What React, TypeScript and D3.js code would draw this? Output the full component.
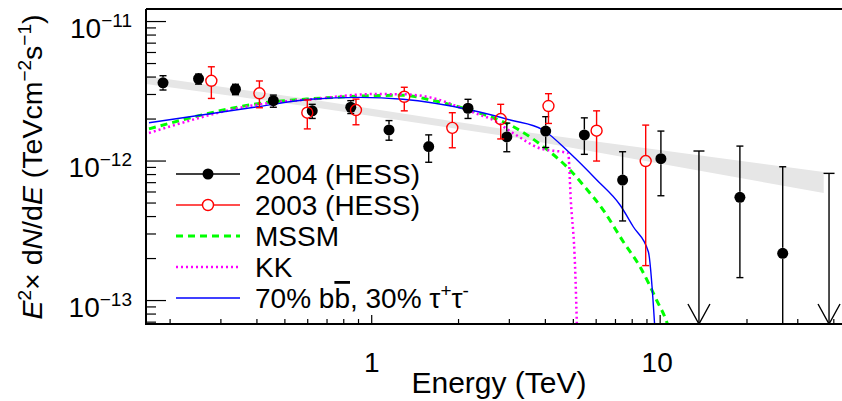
import React from 'react';
import * as d3 from 'd3';

const W = 842;
const H = 401;
const PL = 146, PR = 842, PT = 9, PB = 324;

const xDomain = [0.165, 42.7];
const yDomain = [6.79e-14, 1.23e-11];

const xMajor = [1, 10];
const xMajorLabels = ['1', '10'];
const yMajor = [1e-13, 1e-12, 1e-11];
const yMajorExp = ['\u221213', '\u221212', '\u221211'];

// 2004 (HESS)
const e04 = [0.189, 0.251, 0.337, 0.456, 0.622, 0.846, 1.148, 1.576, 2.157, 2.94, 4.01, 5.46, 7.41, 10.06, 18.9, 26.6];
const f04 = [3.64e-12, 3.89e-12, 3.27e-12, 2.71e-12, 2.29e-12, 2.43e-12, 1.67e-12, 1.27e-12, 2.39e-12, 1.49e-12, 1.64e-12, 1.54e-12, 7.31e-13, 1.039e-12, 5.49e-13, 2.18e-13];
const f04Hi = [4.09e-12, 4.2e-12, 3.55e-12, 2.97e-12, 2.55e-12, 2.71e-12, 1.95e-12, 1.54e-12, 2.77e-12, 1.87e-12, 2.08e-12, 2.04e-12, 1.166e-12, 1.64e-12, 1.28e-12, 9.1e-13];
const f04Lo = [3.23e-12, 3.56e-12, 2.99e-12, 2.43e-12, 2.02e-12, 2.19e-12, 1.41e-12, 9.8e-13, 2.02e-12, 1.166e-12, 1.25e-12, 1.117e-12, 3.72e-13, 5.64e-13, 1.46e-13, 4.0e-14];
// 2004 upper limits
const ulE = [13.63, 38.5];
const ulF = [1.18e-12, 8.16e-13];

// 2003 (HESS)
const e03 = [0.278, 0.408, 0.598, 0.882, 1.297, 1.903, 2.8, 4.1, 6.02, 8.91];
const f03 = [3.76e-12, 3.06e-12, 2.22e-12, 2.32e-12, 2.89e-12, 1.73e-12, 2.0e-12, 2.48e-12, 1.65e-12, 1.0e-12];
const f03Hi = [4.74e-12, 3.75e-12, 2.74e-12, 2.78e-12, 3.38e-12, 2.22e-12, 2.55e-12, 3.04e-12, 2.29e-12, 1.81e-12];
const f03Lo = [2.81e-12, 2.41e-12, 1.7e-12, 1.82e-12, 2.29e-12, 1.245e-12, 1.44e-12, 1.86e-12, 1.0e-12, 1.78e-13];

// power-law fit band
const bandE = [0.165, 0.611, 3.02, 36.9];
const bandHi = [4.07e-12, 2.77e-12, 1.67e-12, 8.34e-13];
const bandLo = [3.56e-12, 2.45e-12, 1.494e-12, 5.9e-13];

// MSSM
const mssmE = [0.169, 0.455, 0.595, 1.01, 1.294, 1.592, 2.14, 2.57, 3.1, 3.93, 4.87, 5.41, 6.35, 7.45, 8.51, 9.72, 10.53, 10.81];
const mssmF = [1.7e-12, 2.66e-12, 2.78e-12, 2.94e-12, 2.96e-12, 2.75e-12, 2.35e-12, 2.08e-12, 1.76e-12, 1.27e-12, 8.62e-13, 6.73e-13, 4.45e-13, 2.64e-13, 1.75e-13, 1.008e-13, 7.05e-14, 5.94e-14];
// KK
const kkE = [0.169, 0.455, 0.595, 1.01, 1.294, 1.592, 2.14, 2.374, 2.57, 3.1, 3.83, 4.8, 4.9, 5.07, 5.15];
const kkF = [1.59e-12, 2.63e-12, 2.75e-12, 3.02e-12, 3.01e-12, 2.86e-12, 2.32e-12, 2.14e-12, 2.02e-12, 1.58e-12, 1.233e-12, 1.136e-12, 5.25e-13, 1.75e-13, 6.14e-14];
// 70% bb, 30% tau tau
const bbE = [0.169, 0.403, 0.611, 0.911, 1.284, 2.14, 3.02, 3.93, 4.87, 6.03, 7.26, 8.07, 9.1, 9.64];
const bbF = [1.88e-12, 2.45e-12, 2.77e-12, 2.86e-12, 2.77e-12, 2.35e-12, 1.97e-12, 1.67e-12, 1.136e-12, 7.31e-13, 4.84e-13, 3.38e-13, 2.24e-13, 5.21e-14];

const FONT = "'Liberation Sans', Arial, Helvetica, sans-serif";

export default function App() {
  const x = d3.scaleLog().domain(xDomain).range([PL, PR]);
  const y = d3.scaleLog().domain(yDomain).range([PB, PT]);

  const xMinor: number[] = [];
  [0.1, 1, 10].forEach((d) => {
    for (let k = 2; k <= 9; k++) {
      const v = k * d;
      if (v > xDomain[0] && v < xDomain[1]) xMinor.push(v);
    }
  });
  const yMinor: number[] = [];
  [1e-14, 1e-13, 1e-12, 1e-11].forEach((d) => {
    for (let k = 2; k <= 9; k++) {
      const v = k * d;
      if (v > yDomain[0] && v < yDomain[1]) yMinor.push(v);
    }
  });

  const line = d3
    .line<[number, number]>()
    .x((d) => x(d[0]))
    .y((d) => y(d[1]))
    .curve(d3.curveMonotoneX);

  const area = d3
    .area<number>()
    .x((_, i) => x(bandE[i]))
    .y0((_, i) => y(bandLo[i]))
    .y1((_, i) => y(bandHi[i]));

  const zip = (a: number[], b: number[]) => a.map((v, i) => [v, b[i]] as [number, number]);

  const r = 5.5;
  const cap = 3.5;

  const errBar = (cx: number, cy: number, hi: number, lo: number, color: string, key: string) => (
    <g key={key} stroke={color} strokeWidth={1.4}>
      <line x1={cx} x2={cx} y1={cy - r} y2={hi} />
      <line x1={cx} x2={cx} y1={cy + r} y2={lo} />
      <line x1={cx - cap} x2={cx + cap} y1={hi} y2={hi} />
      <line x1={cx - cap} x2={cx + cap} y1={lo} y2={lo} />
    </g>
  );

  const legendRows = [
    { label: '2004 (HESS)', kind: 'black' },
    { label: '2003 (HESS)', kind: 'red' },
    { label: 'MSSM', kind: 'mssm' },
    { label: 'KK', kind: 'kk' },
    { label: 'bb', kind: 'bb' },
  ];

  return (
    <svg
      width={W}
      height={H}
      style={{ position: 'absolute', left: 0, top: 0, background: '#fff' }}
      fontFamily={FONT}
    >
      <defs>
        <clipPath id="plotclip">
          <rect x={PL} y={PT} width={PR - PL + 10} height={PB - PT} />
        </clipPath>
      </defs>
      <rect x={0} y={0} width={W} height={H} fill="#fff" />

      <g clipPath="url(#plotclip)">
        <path d={area(bandE) || ''} fill="#e6e6e6" stroke="none" />
        <path d={line(zip(mssmE, mssmF)) || ''} fill="none" stroke="#00ff00" strokeWidth={3} strokeDasharray="7 5" />
        <path d={line(zip(kkE, kkF)) || ''} fill="none" stroke="#ff00ff" strokeWidth={2.5} strokeDasharray="2 3" />
        <path d={line(zip(bbE, bbF)) || ''} fill="none" stroke="#0000ff" strokeWidth={1.4} />

        {e04.map((e, i) => errBar(x(e), y(f04[i]), y(f04Hi[i]), y(f04Lo[i]), '#000', 'b' + i))}
        {e04.map((e, i) => (
          <circle key={'bc' + i} cx={x(e)} cy={y(f04[i])} r={r} fill="#000" />
        ))}
        {ulE.map((e, i) => {
          const cx = x(e);
          const top = y(ulF[i]);
          return (
            <g key={'ul' + i} stroke="#000" strokeWidth={1.4} fill="none">
              <line x1={cx} x2={cx} y1={top} y2={PB} />
              <line x1={cx - 5.5} x2={cx + 5.5} y1={top} y2={top} />
              <polyline points={`${cx - 11},${PB - 20} ${cx},${PB} ${cx + 11},${PB - 20}`} />
            </g>
          );
        })}

        {e03.map((e, i) => errBar(x(e), y(f03[i]), y(f03Hi[i]), y(f03Lo[i]), '#ff0000', 'r' + i))}
        {e03.map((e, i) => (
          <circle key={'rc' + i} cx={x(e)} cy={y(f03[i])} r={r} fill="none" stroke="#ff0000" strokeWidth={1.4} />
        ))}
      </g>

      {/* frame */}
      <g stroke="#000" strokeWidth={2} fill="none">
        <line x1={PL} x2={PR + 5} y1={PT} y2={PT} />
        <line x1={PL} x2={PR + 5} y1={PB} y2={PB} />
        <line x1={PL} x2={PL} y1={PT} y2={PB + 1} />
      </g>

      {/* ticks */}
      <g stroke="#000" strokeWidth={1.2}>
        {xMajor.map((v) => (
          <line key={'xM' + v} x1={x(v)} x2={x(v)} y1={PB} y2={PB - 9} />
        ))}
        {xMinor.map((v) => (
          <line key={'xm' + v} x1={x(v)} x2={x(v)} y1={PB} y2={PB - 5} />
        ))}
        {yMajor.map((v) => (
          <line key={'yM' + v} x1={PL} x2={PL + 20} y1={y(v)} y2={y(v)} />
        ))}
        {yMinor.map((v) => (
          <line key={'ym' + v} x1={PL} x2={PL + 10} y1={y(v)} y2={y(v)} />
        ))}
      </g>

      {/* x tick labels */}
      {xMajor.map((v, i) => (
        <text key={'xl' + v} x={x(v) - (i === 1 ? 3 : 0)} y={372} fontSize={28} textAnchor="middle" fill="#000">
          {xMajorLabels[i]}
        </text>
      ))}
      {/* y tick labels */}
      {yMajor.map((v, i) => (
        <text key={'yl' + v} x={132} y={y(v) + 16} fontSize={28} textAnchor="end" fill="#000">
          <tspan>10</tspan>
          <tspan dy={-11} fontSize={19}>{yMajorExp[i]}</tspan>
        </text>
      ))}

      {/* axis titles */}
      <text x={499} y={393} fontSize={30} textAnchor="middle" fill="#000">
        Energy (TeV)
      </text>
      <text transform="translate(42,167) rotate(-90)" fontSize={28.5} textAnchor="middle" fill="#000">
        <tspan fontStyle="italic">E</tspan>
        <tspan dy={-11} fontSize={19}>2</tspan>
        <tspan dy={11}>{'\u00d7 d'}</tspan>
        <tspan fontStyle="italic">N</tspan>
        <tspan>/d</tspan>
        <tspan fontStyle="italic">E</tspan>
        <tspan>{' (TeVcm'}</tspan>
        <tspan dy={-11} fontSize={19}>{'\u22122'}</tspan>
        <tspan dy={11}>s</tspan>
        <tspan dy={-11} fontSize={19}>{'\u22121'}</tspan>
        <tspan dy={11}>)</tspan>
      </text>

      {/* legend */}
      {legendRows.map((row, i) => {
        const base = 184 + 31 * i;
        const ly = base - 10;
        let sym: React.ReactNode = null;
        if (row.kind === 'black') {
          sym = (
            <g>
              <line x1={176} x2={240} y1={ly} y2={ly} stroke="#000" strokeWidth={1.4} />
              <circle cx={208} cy={ly} r={r} fill="#000" />
            </g>
          );
        } else if (row.kind === 'red') {
          sym = (
            <g>
              <line x1={176} x2={202.5} y1={ly} y2={ly} stroke="#ff0000" strokeWidth={1.4} />
              <line x1={213.5} x2={240} y1={ly} y2={ly} stroke="#ff0000" strokeWidth={1.4} />
              <circle cx={208} cy={ly} r={r} fill="none" stroke="#ff0000" strokeWidth={1.4} />
            </g>
          );
        } else if (row.kind === 'mssm') {
          sym = <line x1={176} x2={240} y1={ly} y2={ly} stroke="#00ff00" strokeWidth={3} strokeDasharray="7 5" />;
        } else if (row.kind === 'kk') {
          sym = <line x1={176} x2={240} y1={ly} y2={ly} stroke="#ff00ff" strokeWidth={2.5} strokeDasharray="2 3" />;
        } else {
          sym = <line x1={176} x2={240} y1={ly} y2={ly} stroke="#0000ff" strokeWidth={1.4} />;
        }
        return (
          <g key={'lg' + i}>
            {sym}
            {row.kind === 'bb' ? (
              <text x={255} y={base} fontSize={28} fill="#000">
                <tspan>{'70% b'}</tspan>
                <tspan style={{ textDecoration: 'overline' }}>b</tspan>
                <tspan>{', 30% \u03c4'}</tspan>
                <tspan dy={-11} fontSize={19}>+</tspan>
                <tspan dy={11}>{'\u03c4'}</tspan>
                <tspan dy={-11} fontSize={19}>-</tspan>
              </text>
            ) : (
              <text x={255} y={base} fontSize={28} fill="#000">
                {row.label}
              </text>
            )}
          </g>
        );
      })}
    </svg>
  );
}
